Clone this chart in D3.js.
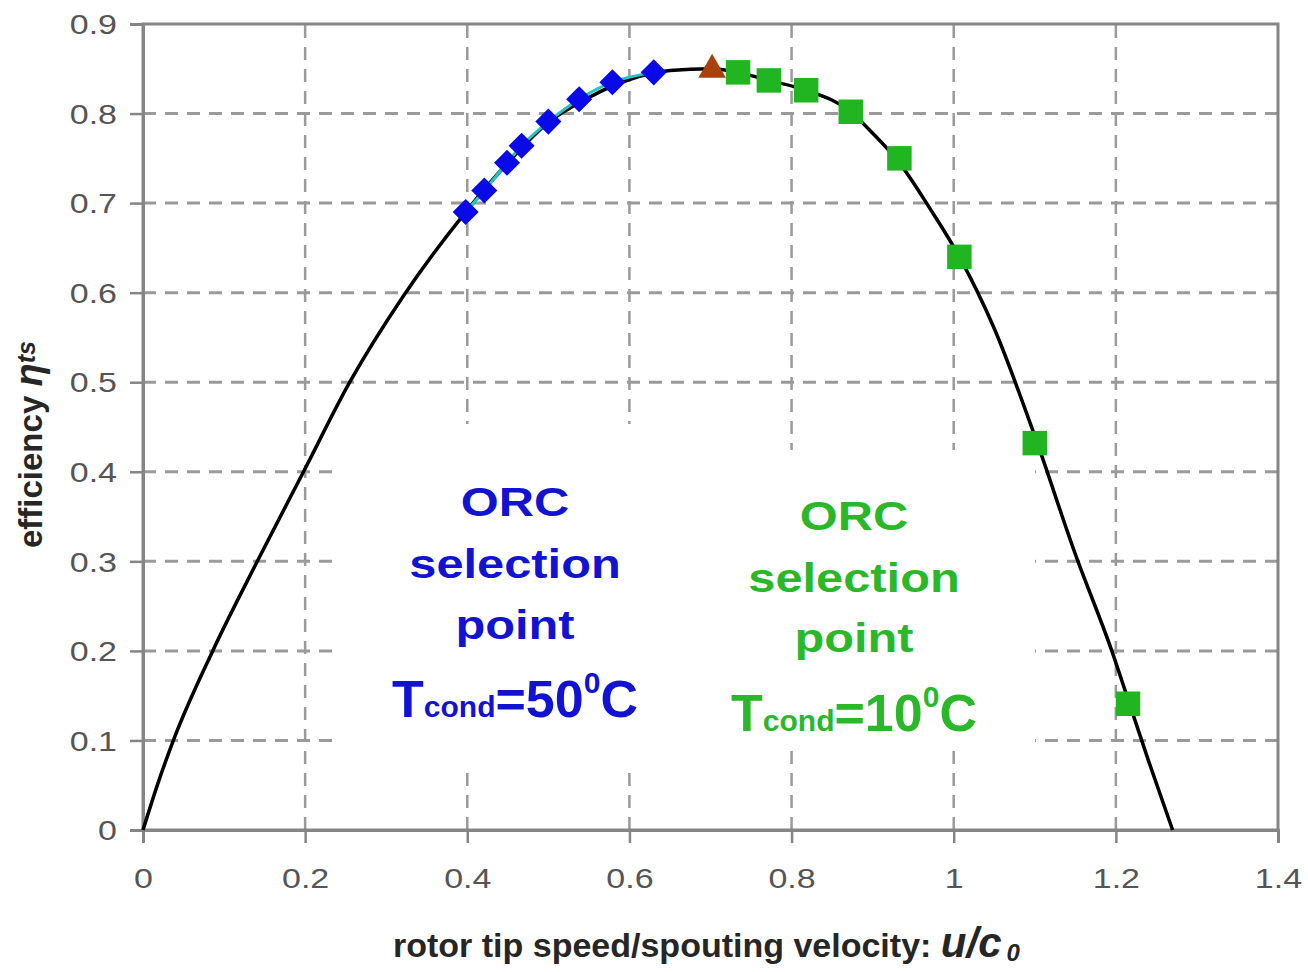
<!DOCTYPE html>
<html>
<head>
<meta charset="utf-8">
<script src="https://cdn.jsdelivr.net/npm/d3@7"></script>
<style>
  body { margin: 0; background: #fff; }
  text { font-family: "Liberation Sans", Arial, sans-serif; }
</style>
</head>
<body>
<svg id="chart" width="1308" height="972"></svg>
<script>
// tick values
const xTicks = [0, 0.2, 0.4, 0.6, 0.8, 1, 1.2, 1.4];
const yTicks = [0, 0.1, 0.2, 0.3, 0.4, 0.5, 0.6, 0.7, 0.8, 0.9];

// efficiency curve (black line)
const curveU   = [0, 0.018, 0.037, 0.086, 0.141, 0.198, 0.255, 0.321, 0.398, 0.45, 0.50, 0.55, 0.60, 0.65, 0.70, 0.734, 0.772, 0.818, 0.873, 0.90, 0.933, 0.97, 1.007, 1.05, 1.10, 1.15, 1.195, 1.215, 1.24, 1.270];
const curveEta = [0, 0.051, 0.099, 0.2, 0.3, 0.4, 0.5, 0.596, 0.69, 0.745, 0.79, 0.818, 0.838, 0.848, 0.85, 0.846, 0.837, 0.826, 0.802, 0.778, 0.745, 0.695, 0.64, 0.56, 0.44, 0.308, 0.2, 0.146, 0.078, 0];

// ORC selection points, Tcond = 50 C (blue diamonds)
const orc50U   = [0.398, 0.421, 0.449, 0.467, 0.500, 0.538, 0.579, 0.630];
const orc50Eta = [0.690, 0.714, 0.745, 0.764, 0.791, 0.816, 0.835, 0.846];

// design point (brown triangle)
const designU   = [0.702];
const designEta = [0.849];

// ORC selection points, Tcond = 10 C (green squares)
const orc10U   = [0.734, 0.772, 0.818, 0.873, 0.933, 1.007, 1.100, 1.215];
const orc10Eta = [0.846, 0.837, 0.826, 0.802, 0.750, 0.640, 0.432, 0.141];

const zip = (a, b) => a.map((v, i) => ({u: v, eta: b[i]}));

const width = 1308, height = 972;
const margin = {top: 24, right: 30, bottom: 142, left: 143};

const svg = d3.select('#chart');

const x = d3.scaleLinear().domain([0, 1.4]).range([margin.left, width - margin.right]);
const y = d3.scaleLinear().domain([0, 0.9]).range([height - margin.bottom, margin.top]);

const fmt = d => String(+d.toFixed(1));
const gridColor = '#9a9a9a';
const axisColor = '#858585';
const stretch = 1.26;   // the original picture is wider than tall

// gridlines
const grid = svg.append('g');
grid.selectAll('line.h')
    .data(yTicks.slice(1, -1))
    .join('line')
    .attr('x1', x(0)).attr('x2', x(1.4))
    .attr('y1', d => y(d)).attr('y2', d => y(d))
    .attr('stroke', gridColor).attr('stroke-width', 3)
    .attr('stroke-dasharray', '13,9');
grid.selectAll('line.v')
    .data(xTicks.slice(1, -1))
    .join('line')
    .attr('x1', d => x(d)).attr('x2', d => x(d))
    .attr('y1', y(0)).attr('y2', y(0.9))
    .attr('stroke', gridColor).attr('stroke-width', 2.5)
    .attr('stroke-dasharray', '13,9');

// white text boxes that hide the grid
svg.append('rect').attr('x', 337).attr('y', 424).attr('width', 358).attr('height', 341).attr('fill', '#fff');
svg.append('rect').attr('x', 695).attr('y', 450).attr('width', 340).attr('height', 296).attr('fill', '#fff');

// frame
svg.append('rect')
    .attr('x', x(0)).attr('y', y(0.9))
    .attr('width', x(1.4) - x(0)).attr('height', y(0) - y(0.9))
    .attr('fill', 'none').attr('stroke', axisColor).attr('stroke-width', 3);

// axes
const xAxis = svg.append('g')
    .attr('transform', `translate(0,${y(0)})`)
    .call(d3.axisBottom(x).tickValues(xTicks).tickFormat(fmt).tickSize(13).tickPadding(26));
const yAxis = svg.append('g')
    .attr('transform', `translate(${x(0)},0)`)
    .call(d3.axisLeft(y).tickValues(yTicks).tickFormat(fmt).tickSize(13).tickPadding(13));

[xAxis, yAxis].forEach(a => {
    a.select('.domain').attr('stroke', axisColor).attr('stroke-width', 3);
    a.selectAll('.tick line').attr('stroke', axisColor).attr('stroke-width', 2.5);
    a.selectAll('.tick text')
        .attr('fill', '#555')
        .style('font-size', '27px')
        .style('font-family', '"Liberation Sans", Arial, sans-serif');
});
xAxis.selectAll('.tick text').attr('transform', `scale(${stretch},1)`);
yAxis.selectAll('.tick text')
    .attr('dy', '0.36em')
    .attr('x', -26 / stretch)
    .attr('transform', `scale(${stretch},1)`);

// efficiency curve
const line = d3.line().x(d => x(d.u)).y(d => y(d.eta)).curve(d3.curveMonotoneX);
svg.append('path')
    .datum(zip(curveU, curveEta))
    .attr('d', line)
    .attr('fill', 'none').attr('stroke', '#000').attr('stroke-width', 3.5);

// cyan line joining the blue points
svg.append('path')
    .datum(zip(orc50U, orc50Eta))
    .attr('d', line)
    .attr('fill', 'none').attr('stroke', '#1ec8c8').attr('stroke-width', 3);

// markers
svg.append('g').selectAll('path')
    .data(zip(orc50U, orc50Eta))
    .join('path')
    .attr('d', d3.symbol(d3.symbolSquare, 340))
    .attr('transform', d => `translate(${x(d.u)},${y(d.eta)}) rotate(45)`)
    .attr('fill', '#0a0ae6');

svg.append('g').selectAll('path')
    .data(zip(orc10U, orc10Eta))
    .join('path')
    .attr('d', d3.symbol(d3.symbolSquare, 600))
    .attr('transform', d => `translate(${x(d.u)},${y(d.eta)})`)
    .attr('fill', '#22b522');

svg.append('g').selectAll('path')
    .data(zip(designU, designEta))
    .join('path')
    .attr('d', d3.symbol(d3.symbolTriangle, 330))
    .attr('transform', d => `translate(${x(d.u)},${y(d.eta)})`)
    .attr('fill', '#a8400f');

// annotation text
function block(cx, color, rows) {
    const g = svg.append('g').attr('fill', color).style('font-weight', 'bold');
    rows.forEach(r => {
        const t = g.append('text')
            .attr('text-anchor', 'middle')
            .attr('transform', `translate(${cx},${r.y}) scale(${r.sx || 1},1)`)
            .style('font-size', r.size + 'px');
        r.parts.forEach(p => {
            const s = t.append('tspan').text(p.t);
            if (p.size) s.style('font-size', p.size + 'px');
            if (p.dy) s.attr('dy', p.dy);
        });
    });
}

block(515, '#1212d2', [
    {y: 516, size: 40, sx: 1.22, parts: [{t: 'ORC'}]},
    {y: 578, size: 40, sx: 1.22, parts: [{t: 'selection'}]},
    {y: 639, size: 40, sx: 1.22, parts: [{t: 'point'}]},
    {y: 717, size: 52, parts: [{t: 'T'}, {t: 'cond', size: 30}, {t: '=50'}, {t: '0', size: 30, dy: -24}, {t: 'C', dy: 24}]}
]);

block(854, '#2ab82a', [
    {y: 530, size: 40, sx: 1.22, parts: [{t: 'ORC'}]},
    {y: 592, size: 40, sx: 1.22, parts: [{t: 'selection'}]},
    {y: 652, size: 40, sx: 1.22, parts: [{t: 'point'}]},
    {y: 731, size: 52, parts: [{t: 'T'}, {t: 'cond', size: 30}, {t: '=10'}, {t: '0', size: 30, dy: -24}, {t: 'C', dy: 24}]}
]);

// axis titles
const xt = svg.append('text')
    .attr('x', 393).attr('y', 957)
    .attr('fill', '#262626')
    .style('font-weight', 'bold').style('font-size', '34px');
xt.append('tspan').text('rotor tip speed/spouting velocity: ');
xt.append('tspan').text('u/c').style('font-style', 'italic').style('font-size', '42px');
xt.append('tspan').text('0').style('font-style', 'italic').style('font-size', '24px').attr('dx', 5).attr('dy', 4);

const yt = svg.append('text')
    .attr('transform', 'translate(42,548) rotate(-90)')
    .attr('fill', '#262626')
    .style('font-weight', 'bold').style('font-size', '33px');
yt.append('tspan').text('efficiency  ');
yt.append('tspan').text('η').style('font-style', 'italic').style('font-size', '38px');
yt.append('tspan').text('ts').style('font-style', 'italic').style('font-size', '25px').attr('dy', -7);
</script>
</body>
</html>
